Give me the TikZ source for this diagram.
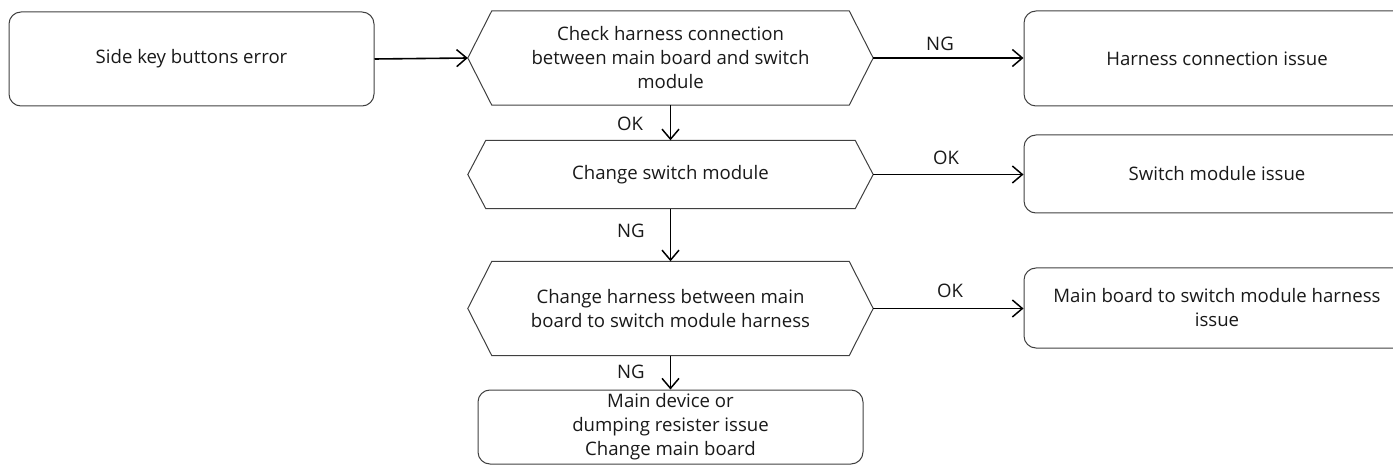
\documentclass[tikz,border=0pt]{standalone}
\usepackage{fontspec}
\setmainfont{Open Sans}
\usetikzlibrary{arrows.meta,calc}
\begin{document}
\begin{tikzpicture}[x=1pt,y=-1pt,
  every node/.style={font=\fontsize{18.6}{24}\selectfont, text=black!90},
  rbox/.style={draw=black!75, line width=1pt, rounded corners=12pt, align=center, inner sep=0pt},
  hexnode/.style={draw=none, align=center, inner sep=0pt, minimum width=405pt},
  arr/.style={line width=1.6pt, -{Straight Barb[length=10pt,width=17pt,line width=1.5pt]}},
  hexline/.style={draw=black!75, line width=1pt, line join=miter},
  lbl/.style={inner sep=0pt}
]
\useasboundingbox (0,0) rectangle (1393,465);
\begin{scope}
\clip (0,0) rectangle (1393,465);
% start box
\node[rbox, minimum width=365pt, minimum height=94pt] (A) at (191.5,59) {Side key buttons error};
% hexagon nodes
\node[hexnode, minimum height=94pt] (B) at (670.5,58) {Check harness connection\\between main board and switch\\module};
\node[hexnode, minimum height=68pt] (C) at (670.5,174.5) {Change switch module};
\node[hexnode, minimum height=94pt] (D) at (670.5,308.5) {Change harness between main\\board to switch module harness};
\foreach \n/\o in {B/24,C/18,D/24}{
  \draw[hexline] (\n.west) -- ($(\n.north west)+(\o,0)$) -- ($(\n.north east)+(-\o,0)$) -- (\n.east)
     -- ($(\n.south east)+(-\o,0)$) -- ($(\n.south west)+(\o,0)$) -- cycle;
}
% end boxes
\node[rbox, minimum width=385pt, minimum height=74pt] (E) at (670.5,427) {Main device or\\dumping resister issue\\Change main board};
\node[rbox, minimum width=386pt, minimum height=95pt] (F) at (1217,58.5) {Harness connection issue};
\node[rbox, minimum width=386pt, minimum height=78pt] (G) at (1217,174) {Switch module issue};
\node[rbox, minimum width=386pt, minimum height=80pt] (H) at (1217,308) {Main board to switch module harness\\issue};
\end{scope}
% connectors
\draw[arr] (A.east) -- (B.west);
\draw[arr] (B.east) -- (F.west |- B.east);
\draw[arr] (C.east) -- (G.west |- C.east);
\draw[arr] (D.east) -- (H.west |- D.east);
\draw[arr] (B.south) -- (C.north);
\draw[arr] (C.south) -- (D.north);
\draw[arr] (D.south) -- (E.north);
% labels
\node[lbl] (l1) at (940,44) {NG};
\node[lbl] (l2) at (946,158) {OK};
\node[lbl] (l3) at (950,291) {OK};
\node[lbl] (l4) at (630,124) {OK};
\node[lbl] (l5) at (631,231) {NG};
\node[lbl] (l6) at (631,372) {NG};
\end{tikzpicture}
\end{document}
